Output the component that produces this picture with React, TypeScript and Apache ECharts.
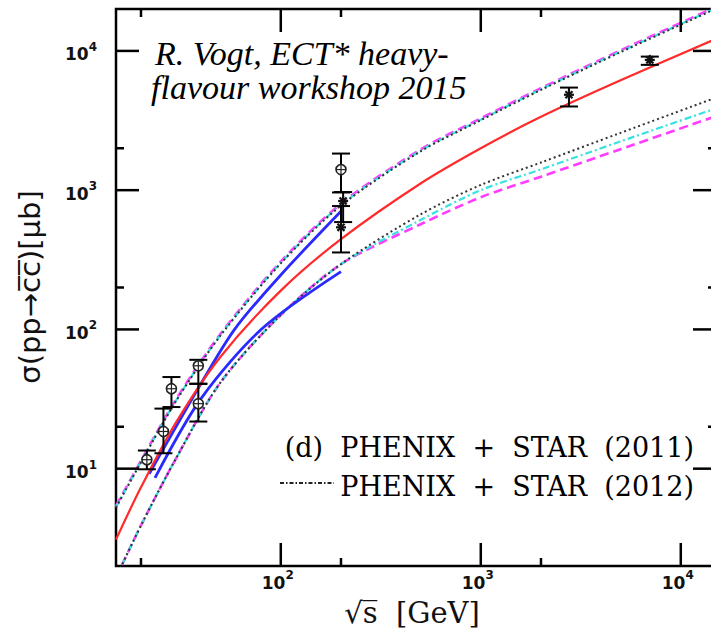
import React, { useEffect, useRef } from 'react';
import * as echarts from 'echarts';

// Axis ranges (sqrt(s) in GeV, sigma in microbarn)
const X_MIN = 15;
const X_MAX = 15000;
const Y_MIN = 2;
const Y_MAX = 20000;

const xMajorTicks = [100, 1000, 10000];
const xMinorTicks = [20, 200, 2000];
const yMajorTicks = [10, 100, 1000, 10000];
const yMinorTicks = [20, 200, 2000];

// Energies at which the calculated curves are tabulated
const curveSqrtS = [15, 20, 30, 50, 100, 200, 500, 1000, 2000, 5000, 15000];

// Central calculation
const centralSigma = [3.1, 7.35, 21.6, 63.7, 190, 445, 1117, 2000, 3365, 6150, 12200];

// Upper edge of the uncertainty band (three parameter sets)
const upperDashed = [5.4, 11.4, 31.6, 93, 307, 800, 1960, 3280, 5400, 10100, 20700];
const upperDashDot = [5.3, 11.2, 31, 91.4, 301, 783, 1920, 3210, 5300, 9900, 20300];
const upperDotted = [5.25, 11.1, 30.7, 90.5, 298, 775, 1900, 3180, 5250, 9800, 20100];

// Lower edge of the uncertainty band
const lowerDotted = [1.65, 3.91, 11.9, 41.7, 127, 294, 670, 1090, 1580, 2580, 4620];
const lowerDashDot = [1.65, 3.91, 11.9, 41.7, 127, 294, 611, 1000, 1410, 2240, 3870];
const lowerDashed = [1.65, 3.91, 11.9, 41.7, 127, 294, 569, 890, 1250, 1970, 3400];

// Fit band over the measured energy range
const fitUpperSqrtS = [22, 40, 59, 100, 200];
const fitUpperSigma = [9.2, 41, 101, 246, 705];
const fitLowerSqrtS = [23.5, 40, 80.5, 200];
const fitLowerSigma = [8.6, 32, 101, 260];

// Measurements: value, error-bar ends, marker kind (0 = open circle, 1 = asterisk)
const dataSqrtS = [21.4, 25.9, 28.4, 38.7, 38.7, 200, 205, 200, 2760, 7000];
const dataSigma = [11.6, 18.5, 37.5, 54.8, 29.3, 1406, 836, 541, 4842, 8625];
const dataLow = [9.9, 12.9, 27.7, 40.7, 21.8, 963, 590, 357, 3990, 7943];
const dataHigh = [13.5, 27, 45.5, 60.5, 40.7, 1832, 969, 769, 5455, 9104];
const dataMarker = [0, 0, 0, 0, 0, 0, 1, 1, 1, 1];

const zip = (xs: number[], ys: number[]) => xs.map((x, i) => [x, ys[i]]);

const tickRich = {
  b: { fontFamily: 'DejaVu Sans', fontWeight: 'bold', fontSize: 17, lineHeight: 22, verticalAlign: 'bottom', fill: '#111' },
  s: { fontFamily: 'DejaVu Sans', fontWeight: 'bold', fontSize: 12, lineHeight: 14, verticalAlign: 'top', fill: '#111' },
};
const powLabel = (v: number) => `{b|10}{s|${Math.round(Math.log10(v))}}`;

const TICK_STYLE = { stroke: '#000', lineWidth: 2.5 };

function curve(name: string, xs: number[], ys: number[], color: string, width: number, dash: any, z: number) {
  return {
    name,
    type: 'line',
    data: zip(xs, ys),
    smooth: 0.3,
    showSymbol: false,
    symbol: 'none',
    clip: true,
    silent: true,
    z,
    lineStyle: { color, width, type: dash },
  };
}

export default function App() {
  const ref = useRef<HTMLDivElement>(null);

  useEffect(() => {
    if (!ref.current) return;
    const chart = echarts.init(ref.current, undefined, { renderer: 'svg' });

    const xTickData = [
      ...xMajorTicks.map((v) => [v, Y_MIN, 1]),
      ...xMinorTicks.map((v) => [v, Y_MIN, 0]),
    ];
    const yTickData = [
      ...yMajorTicks.map((v) => [X_MIN, v, 1]),
      ...yMinorTicks.map((v) => [X_MIN, v, 0]),
    ];
    const pointData = dataSqrtS.map((x, i) => [x, dataSigma[i], dataLow[i], dataHigh[i], dataMarker[i]]);

    const option: any = {
      animation: false,
      backgroundColor: '#fff',
      grid: {
        left: 116,
        width: 600,
        top: 9,
        bottom: 66,
        outerBoundsMode: 'none',
        containLabel: false,
        show: true,
        borderColor: '#000',
        borderWidth: 2.5,
        backgroundColor: 'transparent',
      },
      xAxis: {
        type: 'log',
        logBase: 10,
        min: X_MIN,
        max: X_MAX,
        axisLine: { show: false },
        axisTick: { show: false },
        axisLabel: { show: false },
        splitLine: { show: false },
      },
      yAxis: {
        type: 'log',
        logBase: 10,
        min: Y_MIN,
        max: Y_MAX,
        axisLine: { show: false },
        axisTick: { show: false },
        axisLabel: { show: false },
        splitLine: { show: false },
      },
      series: [
        curve('upper dashed', curveSqrtS, upperDashed, '#ff3cff', 2.6, [9, 5], 2),
        curve('upper dash-dot', curveSqrtS, upperDashDot, '#36e2e2', 2.2, [7, 3, 2, 3], 3),
        curve('upper dotted', curveSqrtS, upperDotted, '#333', 2, [2, 3], 4),
        curve('lower dashed', curveSqrtS, lowerDashed, '#ff3cff', 2.6, [9, 5], 2),
        curve('lower dash-dot', curveSqrtS, lowerDashDot, '#36e2e2', 2.2, [7, 3, 2, 3], 3),
        curve('lower dotted', curveSqrtS, lowerDotted, '#333', 2, [2, 3], 4),
        curve('fit upper', fitUpperSqrtS, fitUpperSigma, '#2a2aff', 2.8, 'solid', 5),
        curve('fit lower', fitLowerSqrtS, fitLowerSigma, '#2a2aff', 2.8, 'solid', 5),
        curve('central', curveSqrtS, centralSigma, '#ff2a2a', 2.2, 'solid', 6),
        {
          name: 'data',
          type: 'custom',
          coordinateSystem: 'cartesian2d',
          clip: false,
          silent: true,
          z: 8,
          dimensions: ['x', 'y', 'lo', 'hi', 'kind'],
          encode: { x: 0, y: 1 },
          data: pointData,
          renderItem: (_p: any, api: any) => {
            const sx = api.value(0);
            const c = api.coord([sx, api.value(1)]);
            const lo = api.coord([sx, api.value(2)]);
            const hi = api.coord([sx, api.value(3)]);
            const kind = api.value(4);
            const w = 9;
            const st = { stroke: '#000', lineWidth: 2 };
            const children: any[] = [
              { type: 'line', shape: { x1: c[0], y1: hi[1], x2: c[0], y2: lo[1] }, style: st },
              { type: 'line', shape: { x1: c[0] - w, y1: hi[1], x2: c[0] + w, y2: hi[1] }, style: st },
              { type: 'line', shape: { x1: c[0] - w, y1: lo[1], x2: c[0] + w, y2: lo[1] }, style: st },
            ];
            if (kind === 0) {
              children.push(
                { type: 'circle', shape: { cx: c[0], cy: c[1], r: 5 }, style: { fill: '#fff', stroke: '#222', lineWidth: 1.6 } },
                { type: 'line', shape: { x1: c[0] - 5, y1: c[1], x2: c[0] + 5, y2: c[1] }, style: { stroke: '#222', lineWidth: 1.2 } },
                { type: 'line', shape: { x1: c[0], y1: c[1] - 5, x2: c[0], y2: c[1] + 5 }, style: { stroke: '#222', lineWidth: 1.2 } },
              );
            } else {
              const r = 5;
              for (let k = 0; k < 4; k++) {
                const a = (k * Math.PI) / 4;
                children.push({
                  type: 'line',
                  shape: { x1: c[0] - r * Math.cos(a), y1: c[1] - r * Math.sin(a), x2: c[0] + r * Math.cos(a), y2: c[1] + r * Math.sin(a) },
                  style: { stroke: '#111', lineWidth: 2.2 },
                });
              }
            }
            return { type: 'group', children };
          },
        },
        {
          name: 'x ticks',
          type: 'custom',
          coordinateSystem: 'cartesian2d',
          clip: false,
          silent: true,
          z: 9,
          data: xTickData,
          renderItem: (_p: any, api: any) => {
            const v = api.value(0);
            const major = api.value(2) === 1;
            const len = major ? 23 : 8;
            const b = api.coord([v, Y_MIN]);
            const t = api.coord([v, Y_MAX]);
            const children: any[] = [
              { type: 'line', shape: { x1: b[0], y1: b[1], x2: b[0], y2: b[1] - len }, style: TICK_STYLE },
              { type: 'line', shape: { x1: t[0], y1: t[1], x2: t[0], y2: t[1] + len }, style: TICK_STYLE },
            ];
            if (major) {
              children.push({
                type: 'text',
                x: b[0] - 3,
                y: b[1] + 3,
                style: { text: powLabel(v), rich: tickRich, align: 'center', verticalAlign: 'top' },
              });
            }
            return { type: 'group', children };
          },
        },
        {
          name: 'y ticks',
          type: 'custom',
          coordinateSystem: 'cartesian2d',
          clip: false,
          silent: true,
          z: 9,
          data: yTickData,
          renderItem: (_p: any, api: any) => {
            const v = api.value(1);
            const major = api.value(2) === 1;
            const len = major ? 23 : 8;
            const l = api.coord([X_MIN, v]);
            const r = api.coord([X_MAX, v]);
            const children: any[] = [
              { type: 'line', shape: { x1: l[0], y1: l[1], x2: l[0] + len, y2: l[1] }, style: TICK_STYLE },
              { type: 'line', shape: { x1: r[0], y1: r[1], x2: r[0] - len, y2: r[1] }, style: TICK_STYLE },
            ];
            if (major) {
              children.push({
                type: 'text',
                x: l[0] - 19,
                y: l[1] + 1,
                style: { text: powLabel(v), rich: tickRich, align: 'right', verticalAlign: 'middle' },
              });
            }
            return { type: 'group', children };
          },
        },
      ],
      graphic: {
        elements: [
          {
            type: 'text',
            x: 155,
            y: 53,
            style: {
              text: 'R. Vogt, ECT* heavy-',
              fontFamily: 'Liberation Serif',
              fontStyle: 'italic',
              fontSize: 34,
              fill: '#000',
              verticalAlign: 'middle',
            },
          },
          {
            type: 'text',
            x: 151,
            y: 87,
            style: {
              text: 'flavour workshop 2015',
              fontFamily: 'Liberation Serif',
              fontStyle: 'italic',
              fontSize: 34,
              fill: '#000',
              verticalAlign: 'middle',
            },
          },
          {
            type: 'text',
            x: 694,
            y: 447,
            style: {
              text: '(d)  PHENIX  +  STAR  (2011)',
              fontFamily: 'DejaVu Serif',
              fontSize: 27,
              fill: '#000',
              align: 'right',
              verticalAlign: 'middle',
            },
          },
          {
            type: 'text',
            x: 694,
            y: 486,
            style: {
              text: 'PHENIX  +  STAR  (2012)',
              fontFamily: 'DejaVu Serif',
              fontSize: 27,
              fill: '#000',
              align: 'right',
              verticalAlign: 'middle',
            },
          },
          {
            type: 'line',
            shape: { x1: 280, y1: 483, x2: 334, y2: 483 },
            style: { stroke: '#222', lineWidth: 2, lineDash: [4, 2, 1.5, 2] },
          },
          {
            type: 'text',
            x: 30,
            y: 287,
            rotation: Math.PI / 2,
            style: {
              text: 'σ(pp→c\u0305c\u0305)[μb]',
              fontFamily: 'DejaVu Sans',
              fontSize: 29,
              fill: '#111',
              align: 'center',
              verticalAlign: 'middle',
            },
          },
          {
            type: 'text',
            x: 412,
            y: 613,
            style: {
              text: '√s\u0305  [GeV]',
              fontFamily: 'DejaVu Serif',
              fontSize: 29,
              fill: '#111',
              align: 'center',
              verticalAlign: 'middle',
            },
          },
        ],
      },
    };

    chart.setOption(option);
    return () => chart.dispose();
  }, []);

  return (
    <div
      ref={ref}
      style={{ position: 'fixed', left: 0, top: 0, width: 711, height: 632, background: '#fff' }}
    />
  );
}
